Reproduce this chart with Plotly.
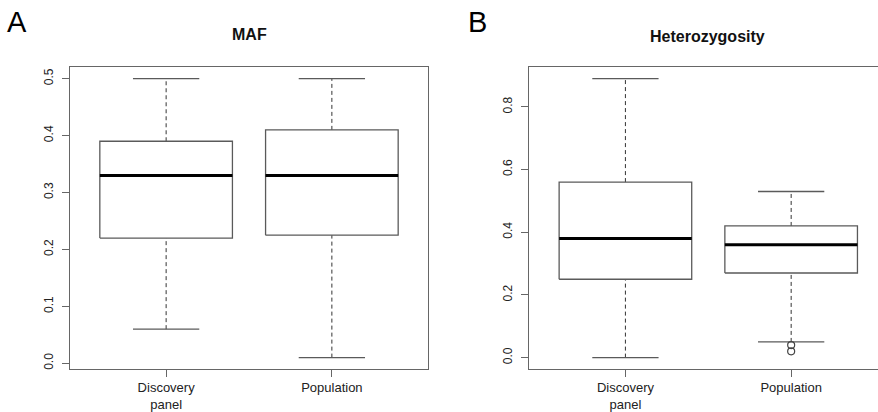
import plotly.graph_objects as go

# Summary statistics for each panel (lower whisker, Q1, median, Q3, upper whisker)
groups = ["Discovery<br>panel", "Population"]

maf_low = [0.06, 0.01]
maf_q1 = [0.22, 0.225]
maf_med = [0.33, 0.33]
maf_q3 = [0.39, 0.41]
maf_high = [0.50, 0.50]
maf_outliers = [[], []]

het_low = [0.00, 0.05]
het_q1 = [0.25, 0.27]
het_med = [0.38, 0.36]
het_q3 = [0.56, 0.42]
het_high = [0.89, 0.53]
het_outliers = [[], [0.04, 0.02]]

BOX_GRAY = "#5a5a5a"
BOX_HALF = 0.4
CAP_HALF = 0.2

fig = go.Figure()


def add_boxes(low, q1, med, q3, high, outliers, xa, ya):
    for i in range(len(low)):
        pos = i + 1
        # dashed whiskers
        fig.add_trace(go.Scatter(
            x=[pos, pos, None, pos, pos],
            y=[low[i], q1[i], None, q3[i], high[i]],
            mode="lines", line=dict(color="#333333", width=1, dash="4px,3px"),
            xaxis=xa, yaxis=ya, hoverinfo="skip", showlegend=False))
        # whisker caps
        fig.add_trace(go.Scatter(
            x=[pos - CAP_HALF, pos + CAP_HALF, None, pos - CAP_HALF, pos + CAP_HALF],
            y=[low[i], low[i], None, high[i], high[i]],
            mode="lines", line=dict(color=BOX_GRAY, width=1.3),
            xaxis=xa, yaxis=ya, hoverinfo="skip", showlegend=False))
        # box
        fig.add_trace(go.Scatter(
            x=[pos - BOX_HALF, pos + BOX_HALF, pos + BOX_HALF, pos - BOX_HALF, pos - BOX_HALF],
            y=[q1[i], q1[i], q3[i], q3[i], q1[i]],
            mode="lines", line=dict(color=BOX_GRAY, width=1.3),
            xaxis=xa, yaxis=ya, hoverinfo="skip", showlegend=False))
        # median
        fig.add_trace(go.Scatter(
            x=[pos - BOX_HALF, pos + BOX_HALF], y=[med[i], med[i]],
            mode="lines", line=dict(color="#000000", width=3),
            xaxis=xa, yaxis=ya, hoverinfo="skip", showlegend=False))
        # outliers
        if outliers[i]:
            fig.add_trace(go.Scatter(
                x=[pos] * len(outliers[i]), y=outliers[i], mode="markers",
                marker=dict(symbol="circle-open", size=7, color="#444444",
                            line=dict(width=1.2)),
                xaxis=xa, yaxis=ya, hoverinfo="skip", showlegend=False))


add_boxes(maf_low, maf_q1, maf_med, maf_q3, maf_high, maf_outliers, "x", "y")
add_boxes(het_low, het_q1, het_med, het_q3, het_high, het_outliers, "x2", "y2")

font_family = "Liberation Sans, Arial, Helvetica, sans-serif"
axis_common = dict(
    showgrid=False, zeroline=False, showline=True, linecolor="#666666", linewidth=1.2,
    ticks="outside", ticklen=7, tickcolor="#666666", tickwidth=1.2,
    tickfont=dict(family=font_family, size=12, color="#222222"),
)

x_dom_a = [70 / 878, 428 / 878]
x_dom_b = [529.3 / 878, 1.0]
y_dom = [1 - 377 / 412, 1 - 69 / 412]

fig.update_layout(
    width=878, height=412,
    margin=dict(l=0, r=0, t=0, b=0),
    paper_bgcolor="white", plot_bgcolor="white",
    showlegend=False,
    font=dict(family=font_family, color="#111111"),
    xaxis=dict(axis_common, domain=x_dom_a, range=[0.42, 2.58], mirror=True,
               tickvals=[1, 2], ticktext=groups, anchor="y",
               tickfont=dict(family=font_family, size=13, color="#222222")),
    yaxis=dict(axis_common, domain=y_dom, range=[-0.0096, 0.5196], mirror=True,
               tickvals=[0.0, 0.1, 0.2, 0.3, 0.4, 0.5], tickformat=".1f",
               tickangle=-90, anchor="x", ticklabelstandoff=4),
    xaxis2=dict(axis_common, domain=x_dom_b, range=[0.42, 2.524], mirror=True,
                tickvals=[1, 2], ticktext=groups, anchor="y2",
                tickfont=dict(family=font_family, size=13, color="#222222")),
    yaxis2=dict(axis_common, domain=y_dom, range=[-0.0356, 0.9256], mirror=False,
                tickvals=[0.0, 0.2, 0.4, 0.6, 0.8], tickformat=".1f",
                tickangle=-90, anchor="x2", ticklabelstandoff=4),
)

annotations = [
    dict(text="<b>MAF</b>", x=sum(x_dom_a) / 2, y=1 - 35 / 412, xref="paper", yref="paper",
         showarrow=False, font=dict(size=16, family=font_family, color="#111111"),
         xanchor="center", yanchor="middle"),
    dict(text="<b>Heterozygosity</b>", x=707.5 / 878, y=1 - 37 / 412, xref="paper",
         yref="paper", showarrow=False,
         font=dict(size=16, family=font_family, color="#111111"),
         xanchor="center", yanchor="middle"),
    dict(text="A", x=5 / 878, y=1 - 22 / 412, xref="paper", yref="paper", showarrow=False,
         font=dict(size=29, family=font_family, color="#000000"),
         xanchor="left", yanchor="middle"),
    dict(text="B", x=466 / 878, y=1 - 23 / 412, xref="paper", yref="paper", showarrow=False,
         font=dict(size=29, family=font_family, color="#000000"),
         xanchor="left", yanchor="middle"),
]
fig.update_layout(annotations=annotations)

fig.write_html("out.html")
